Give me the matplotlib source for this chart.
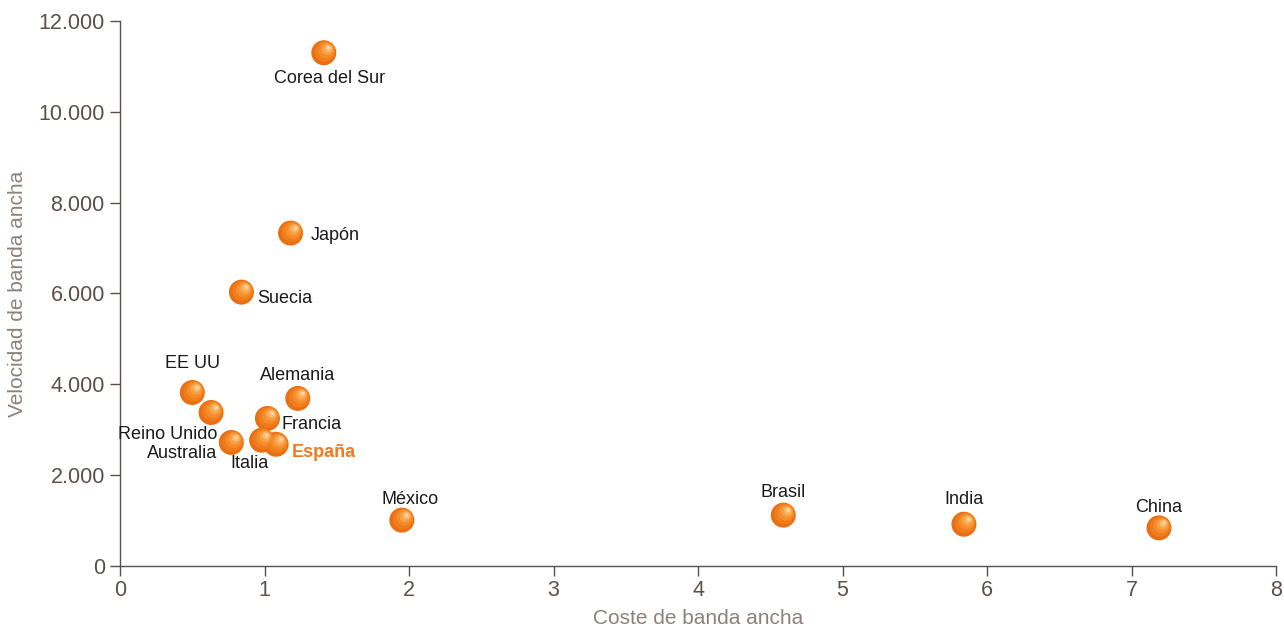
import matplotlib
matplotlib.use("Agg")
import matplotlib.pyplot as plt
from matplotlib.transforms import offset_copy

plt.rcParams['font.family'] = ['Liberation Sans', 'DejaVu Sans']

countries = ["Corea del Sur", "Japón", "Suecia", "EE UU", "Reino Unido", "Australia",
             "Italia", "España", "Francia", "Alemania", "México", "Brasil", "India", "China"]
cost = [1.41, 1.18, 0.84, 0.50, 0.63, 0.77, 0.98, 1.08, 1.02, 1.23, 1.95, 4.59, 5.84, 7.19]
speed = [11300, 7330, 6030, 3820, 3380, 2720, 2770, 2680, 3250, 3690, 1010, 1120, 920, 840]

x_ticks = [0, 1, 2, 3, 4, 5, 6, 7, 8]
y_ticks = [0, 2000, 4000, 6000, 8000, 10000, 12000]
y_tick_labels = ["0", "2.000", "4.000", "6.000", "8.000", "10.000", "12.000"]

# label placement: (dx px, dy px, ha, va)
label_pos = {
    "Corea del Sur": (6, -26, "center", "center"),
    "Japón": (20, -2, "left", "center"),
    "Suecia": (16, -6, "left", "center"),
    "EE UU": (0, 29, "center", "center"),
    "Reino Unido": (6, -22, "right", "center"),
    "Australia": (-14, -11, "right", "center"),
    "Italia": (-12, -23, "center", "center"),
    "España": (16, -8, "left", "center"),
    "Francia": (14, -6, "left", "center"),
    "Alemania": (0, 23, "center", "center"),
    "México": (8, 21, "center", "center"),
    "Brasil": (0, 23, "center", "center"),
    "India": (0, 25, "center", "center"),
    "China": (0, 20, "center", "center"),
}

axis_col = "#5b504c"
label_col = "#8c817c"
orange = "#f07a1e"

fig = plt.figure(figsize=(12.84, 6.28), dpi=100)
ax = fig.add_axes([0.0935, 0.0987, 0.9003, 0.8679])

# spheres: base disc plus lighter layers shifted toward the upper right
px2pt = 72 / fig.dpi
radius_px = 12.5
layers = [
    (1.00, 0.0, 0.0, "#ea6e12"),
    (0.82, 0.10, 0.10, "#f07d1c"),
    (0.64, 0.20, 0.20, "#f48d2a"),
    (0.46, 0.28, 0.28, "#f7a045"),
    (0.30, 0.35, 0.35, "#fab86b"),
    (0.15, 0.40, 0.40, "#fdd6a3"),
]
for frac, ox, oy, col in layers:
    tr = offset_copy(ax.transData, fig=fig, x=ox * radius_px * px2pt,
                     y=oy * radius_px * px2pt, units='points')
    size_pt = 2 * radius_px * frac * px2pt
    ax.scatter(cost, speed, s=size_pt ** 2, color=col, edgecolors='none',
               transform=tr, zorder=3, clip_on=False)

for name, xv, yv in zip(countries, cost, speed):
    dx, dy, ha, va = label_pos[name]
    is_es = name == "España"
    ax.annotate(name, (xv, yv), xytext=(dx * px2pt, dy * px2pt),
                textcoords='offset points', ha=ha, va=va, fontsize=13,
                color=orange if is_es else "#1a1a1a",
                fontweight='bold' if is_es else 'normal', zorder=4)

ax.set_xlim(0, 8)
ax.set_ylim(0, 12000)
ax.set_xticks(x_ticks)
ax.set_yticks(y_ticks)
ax.set_yticklabels(y_tick_labels)

for s in ["top", "right"]:
    ax.spines[s].set_visible(False)
for s in ["left", "bottom"]:
    ax.spines[s].set_color(axis_col)
    ax.spines[s].set_linewidth(1.0)

ax.tick_params(axis='both', colors=axis_col, labelsize=15.5, length=7, width=1.0,
               direction='out', labelcolor=axis_col)
ax.tick_params(axis='y', pad=4)
ax.tick_params(axis='x', pad=3)

ax.set_xlabel("Coste de banda ancha", fontsize=15, color=label_col, labelpad=6)
ax.set_ylabel("Velocidad de banda ancha", fontsize=15, color=label_col, labelpad=8)

fig.savefig("out.png", dpi=100)
